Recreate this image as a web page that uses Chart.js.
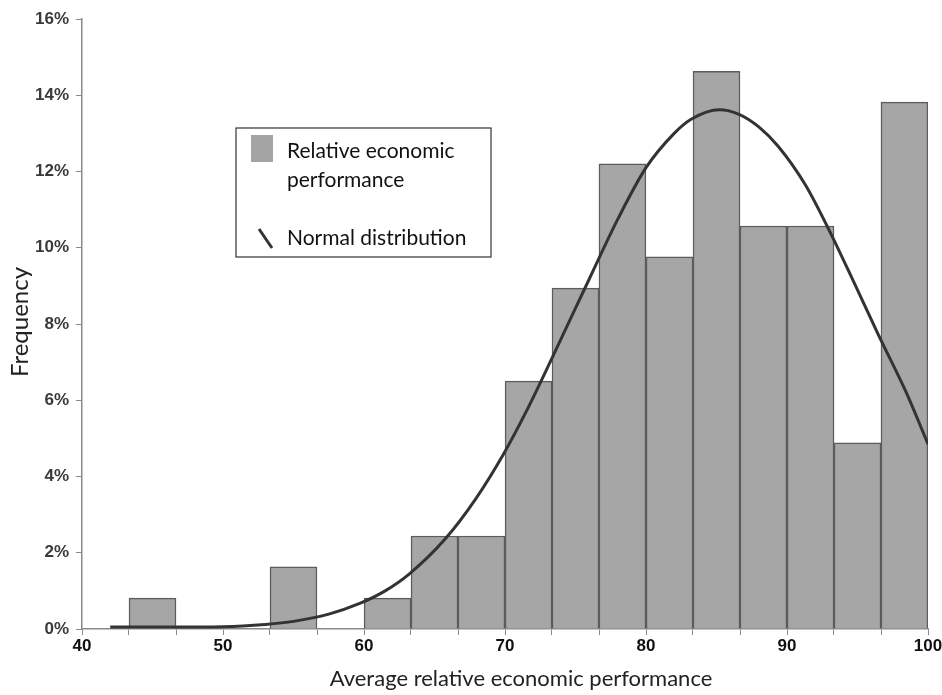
<!DOCTYPE html>
<html>
<head>
<meta charset="utf-8">
<script src="https://cdn.jsdelivr.net/npm/chart.js@4.4.1/dist/chart.umd.min.js"></script>
<style>
    html, body { margin: 0; padding: 0; background: #fff; }
    #wrap { width: 942px; height: 695px; position: relative; }
</style>
</head>
<body>
<div id="wrap"><canvas id="myChart"></canvas></div>
<script>
'use strict';

// histogram bins (centres of 60/18 wide classes) and their share of cases, in %
const binCenters = [41.67, 45, 48.33, 51.67, 55, 58.33, 61.67, 65, 68.33,
    71.67, 75, 78.33, 81.67, 85, 88.33, 91.67, 95, 98.33];
const frequency = [0, 0.81, 0, 0, 1.63, 0, 0.81, 2.44, 2.44,
    6.5, 8.94, 12.2, 9.76, 14.63, 10.57, 10.57, 4.88, 13.82];

// normal curve, points
const curveX = [42, 46, 50, 53, 55, 57.5, 59.7, 61.5, 63.2, 65.8, 67.9, 69.9,
    71.5, 73.2, 76, 78, 80, 82, 83.2, 85.2, 86.6, 88, 89.4, 91.3, 93.2, 94.8,
    96.5, 98.4, 100];
const curveY = [0.05, 0.05, 0.06, 0.12, 0.2, 0.39, 0.67, 1.0, 1.44, 2.38, 3.4, 4.59,
    5.7, 7.0, 9.2, 10.75, 12.1, 13.0, 13.37, 13.62, 13.5, 13.17, 12.65, 11.65, 10.3, 9.05,
    7.7, 6.25, 4.85];

// x tick marks sit on the bin edges, only the tens get a label
const binEdges = [40, 43.33, 46.67, 50, 53.33, 56.67, 60, 63.33, 66.67, 70,
    73.33, 76.67, 80, 83.33, 86.67, 90, 93.33, 96.67, 100];
const xTickLabels = ['40', '50', '60', '70', '80', '90', '100'];
const yTicks = [0, 2, 4, 6, 8, 10, 12, 14, 16];

const legendLabels = [['Relative economic', 'performance'], ['Normal distribution']];
const xTitle = 'Average relative economic performance';
const yTitle = 'Frequency';

// legend box and axis titles
const legendBox = {
    id: 'legendBox',
    afterDraw(chart) {
        const c = chart.ctx;
        c.save();
        c.fillStyle = '#fff';
        c.fillRect(236, 128, 255, 129);
        c.strokeStyle = '#333';
        c.lineWidth = 1.2;
        c.strokeRect(236, 128, 255, 129);

        c.fillStyle = '#a4a4a4';
        c.fillRect(251, 135, 22, 27);

        c.strokeStyle = '#333';
        c.lineWidth = 3;
        c.beginPath();
        c.moveTo(259, 229);
        c.lineTo(272, 248);
        c.stroke();

        c.fillStyle = '#111';
        c.font = '21px Lato';
        c.textBaseline = 'middle';
        c.fillText(legendLabels[0][0], 287, 151);
        c.fillText(legendLabels[0][1], 287, 180);
        c.fillText(legendLabels[1][0], 287, 238);

        // axis titles
        c.fillStyle = '#222';
        c.textAlign = 'center';
        c.font = '22px Lato';
        c.fillText(xTitle, 521, 679);
        c.translate(20, 322);
        c.rotate(-Math.PI / 2);
        c.font = '24px Lato';
        c.fillText(yTitle, 0, 0);
        c.restore();
    },
};

const data = {
    datasets: [
        {
            type: 'line',
            label: 'Normal distribution',
            data: curveX.map((x, i) => ({ x: x, y: curveY[i] })),
            borderColor: '#333',
            borderWidth: 3,
            pointRadius: 0,
            cubicInterpolationMode: 'monotone',
            fill: false,
            order: 0,
        },
        {
            type: 'bar',
            label: 'Relative economic performance',
            data: binCenters.map((x, i) => ({ x: x, y: frequency[i] || null })),
            backgroundColor: '#a6a6a6',
            borderColor: '#5c5c5c',
            borderWidth: 1.5,
            borderSkipped: 'bottom',
            barPercentage: 1,
            categoryPercentage: 1,
            order: 1,
        },
    ],
};

const myChart = new Chart(document.getElementById('myChart'), {
    type: 'bar',
    data: data,
    plugins: [legendBox],
    options: {
        responsive: true,
        maintainAspectRatio: false,
        animation: false,
        devicePixelRatio: 1,
        layout: {
            padding: { top: 19, right: 14, left: 0, bottom: 0 },
        },
        plugins: {
            legend: { display: false },
            tooltip: { enabled: false },
        },
        scales: {
            x: {
                type: 'linear',
                min: 40,
                max: 100,
                offset: false,
                afterBuildTicks: (scale) => {
                    scale.ticks = binEdges.map((v) => ({ value: v }));
                },
                afterFit: (scale) => {
                    scale.height = 66;
                    scale.paddingLeft = 0;
                    scale.paddingRight = 0;
                },
                grid: {
                    offset: false,
                    drawOnChartArea: false,
                    tickLength: 6,
                    color: '#8a8a8a',
                },
                border: { color: '#8a8a8a', width: 1.5 },
                ticks: {
                    autoSkip: false,
                    maxRotation: 0,
                    padding: 1,
                    color: '#111',
                    font: { family: 'Liberation Sans', size: 17, weight: 'bold' },
                    callback: (value) => {
                        const label = String(Math.round(value));
                        return Math.abs(value - Math.round(value)) < 0.01 &&
                            xTickLabels.includes(label) ? label : '';
                    },
                },
            },
            y: {
                min: 0,
                max: 16,
                afterBuildTicks: (scale) => {
                    scale.ticks = yTicks.map((v) => ({ value: v }));
                },
                afterFit: (scale) => {
                    scale.width = 82;
                },
                grid: {
                    drawOnChartArea: false,
                    tickLength: 6,
                    color: '#8a8a8a',
                },
                border: { color: '#8a8a8a', width: 1.5 },
                ticks: {
                    padding: 7,
                    color: '#3a3a3a',
                    font: { family: 'Liberation Sans', size: 17, weight: 'bold' },
                    callback: (value) => value + '%',
                },
            },
        },
    },
});
</script>
</body>
</html>
